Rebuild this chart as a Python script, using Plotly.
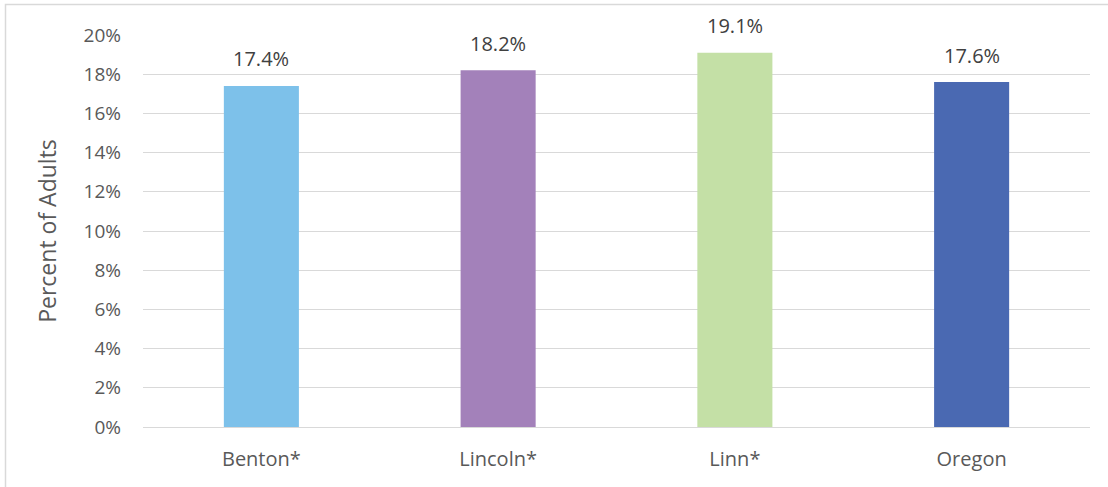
import plotly.graph_objects as go

categories = ["Benton*", "Lincoln*", "Linn*", "Oregon"]
values = [17.4, 18.2, 19.1, 17.6]
colors = ["#7DC1EA", "#A381BA", "#C4E0A6", "#4A69B2"]
tick_vals = [0, 2, 4, 6, 8, 10, 12, 14, 16, 18, 20]
tick_text = [f"{v}%" for v in tick_vals]

font_family = "Open Sans, Noto Sans, sans-serif"
text_color = "#595959"

fig = go.Figure()
fig.add_trace(go.Bar(
    x=categories, y=values, marker=dict(color=colors, line=dict(width=0)),
    hoverinfo="skip", showlegend=False,
))

for c, v in zip(categories, values):
    fig.add_annotation(x=c, y=v, text=f"{v:.1f}%", showarrow=False,
                       yanchor="middle", yshift=27,
                       font=dict(family=font_family, size=20, color="#404040"))

W, H = 1108, 487
ml, mr, mt, mb = 143, 18, 35, 60
pw, ph = W - ml - mr, H - mt - mb

def px_to_paper_x(px):
    return (px - ml) / pw

def px_to_paper_y(py):
    return (H - mb - py) / ph

fig.add_shape(type="rect", xref="paper", yref="paper",
              x0=px_to_paper_x(5.5), x1=px_to_paper_x(1115),
              y0=px_to_paper_y(495), y1=px_to_paper_y(4.5),
              line=dict(color="#D9D9D9", width=1.5), fillcolor="rgba(0,0,0,0)",
              layer="below")

fig.update_layout(
    width=W, height=H,
    margin=dict(l=ml, r=mr, t=mt, b=mb),
    paper_bgcolor="white", plot_bgcolor="white",
    bargap=0.683,
    font=dict(family=font_family, size=19, color=text_color),
    xaxis=dict(showgrid=False, showline=False, ticks="", ticklabelstandoff=18,
               tickfont=dict(size=20, color=text_color)),
    yaxis=dict(range=[0, 20], tickvals=tick_vals, ticktext=tick_text,
               showgrid=True, gridcolor="#D9D9D9", gridwidth=1,
               zeroline=True, zerolinecolor="#D9D9D9", zerolinewidth=1,
               showline=False, ticks="", ticklabelstandoff=21,
               tickfont=dict(size=19, color=text_color),
               title=dict(text="Percent of Adults", standoff=20,
                          font=dict(size=23, color=text_color))),
)

fig.write_html("out.html", config={"displayModeBar": False},
               post_script="document.body.style.margin='0';")
